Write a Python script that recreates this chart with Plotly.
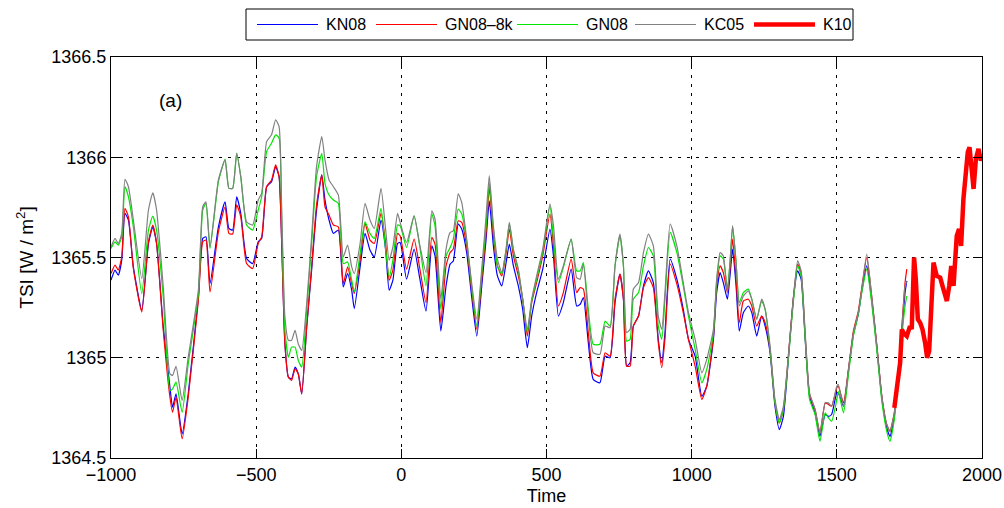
import plotly.graph_objects as go

# Reconstructed total solar irradiance series (W/m^2), 1000 BC - AD 1740
years = [
    -1000, -986, -975, -963, -952, -940, -923, -894, -871, -856, -843, -820, -797, -788, -776,
    -755, -734, -699, -684, -673, -659, -630, -607, -594, -581, -567, -553, -533, -512,
    -493, -481, -464, -447, -433, -421, -412, -401, -389, -378, -366, -355, -343, -326, -309,
    -292, -274, -263, -249, -234, -217, -200, -185, -171, -162, -142, -125, -108, -93, -70,
    -54, -42, -29, -13,
    -4, 18, 44, 64, 85, 105, 116, 136, 154, 168, 179, 196, 208, 225, 242, 260, 277, 292, 303,
    317, 331, 346, 361, 372, 386, 403, 418, 434, 449, 466, 487,
    512, 524, 541, 558, 585, 604, 616, 627, 644, 661, 684, 702, 719, 736, 753, 765, 776, 788,
    799, 817, 834, 851, 868, 885, 897, 908, 926, 949, 971, 989,
    1012, 1035, 1052, 1075, 1086, 1098, 1109, 1123, 1132, 1141, 1153, 1164, 1178, 1195, 1207,
    1224, 1241, 1253, 1270, 1287, 1302, 1316, 1333, 1350, 1365, 1377, 1391, 1406, 1425, 1442,
    1460, 1471, 1482, 1500,
    1505, 1523, 1540, 1557, 1574, 1586, 1603, 1620, 1638, 1655, 1672, 1683, 1698, 1712, 1724,
    1735, 1741,
]

kn08 = [
    1365.387, 1365.437, 1365.412, 1365.487, 1365.720, 1365.687, 1365.453, 1365.237, 1365.570,
    1365.653, 1365.570, 1365.153, 1364.853, 1364.753, 1364.820, 1364.620, 1364.820, 1365.303,
    1365.595, 1365.603, 1365.370, 1365.653, 1365.778, 1365.645, 1365.637, 1365.803, 1365.720,
    1365.495, 1365.470,
    1365.578, 1365.595, 1365.853, 1365.878, 1365.953, 1365.903, 1365.570, 1365.070, 1364.903,
    1364.895, 1364.953, 1364.920, 1364.820, 1365.153, 1365.437, 1365.737, 1365.912, 1365.787,
    1365.687, 1365.620, 1365.637, 1365.353, 1365.420, 1365.337, 1365.245, 1365.453, 1365.620,
    1365.537, 1365.503, 1365.687, 1365.537, 1365.337, 1365.387, 1365.570,
    1365.575, 1365.392, 1365.542, 1365.392, 1365.233, 1365.558, 1365.508, 1365.133, 1365.358,
    1365.467, 1365.483, 1365.667, 1365.642, 1365.525, 1365.308, 1365.108, 1365.358, 1365.592,
    1365.783, 1365.558, 1365.408, 1365.358, 1365.475, 1365.567, 1365.458, 1365.358, 1365.242,
    1365.050, 1365.208, 1365.325, 1365.442,
    1365.642, 1365.508, 1365.208, 1365.275, 1365.442, 1365.258, 1365.267, 1365.300, 1365.075,
    1364.892, 1364.875, 1365.008, 1365.000, 1365.275, 1365.417, 1365.292, 1364.958, 1364.975,
    1365.158, 1365.208, 1365.358, 1365.433, 1365.375, 1365.092, 1364.975, 1365.125, 1365.492,
    1365.392, 1365.242, 1365.092,
    1365.008, 1364.808, 1364.858, 1365.092, 1365.325, 1365.425, 1365.375, 1365.292, 1365.408,
    1365.542, 1365.358, 1365.133, 1365.225, 1365.258, 1365.225, 1365.108, 1365.208, 1365.158,
    1365.025, 1364.758, 1364.642, 1364.708, 1364.992, 1365.292, 1365.433, 1365.392, 1365.092,
    1364.808, 1364.725, 1364.608, 1364.717, 1364.708, 1364.717, 1364.825,
    1364.825, 1364.758, 1364.933, 1365.117, 1365.217, 1365.333, 1365.458, 1365.292, 1365.050,
    1364.800, 1364.650, 1364.608, 1364.708, 1364.925, 1365.125, 1365.325, 1365.383,
]

gn08_8k = [
    1365.420, 1365.462, 1365.437, 1365.503, 1365.745, 1365.703, 1365.445, 1365.228, 1365.578,
    1365.662, 1365.570, 1365.137, 1364.803, 1364.728, 1364.803, 1364.595, 1364.803, 1365.287,
    1365.578, 1365.587, 1365.328, 1365.628, 1365.753, 1365.620, 1365.617, 1365.762, 1365.703,
    1365.470, 1365.445,
    1365.570, 1365.603, 1365.853, 1365.887, 1365.962, 1365.903, 1365.570, 1365.070, 1364.903,
    1364.887, 1364.945, 1364.920, 1364.820, 1365.153, 1365.453, 1365.762, 1365.912, 1365.753,
    1365.712, 1365.662, 1365.653, 1365.370, 1365.453, 1365.370, 1365.320, 1365.487, 1365.670,
    1365.587, 1365.570, 1365.720, 1365.570, 1365.387, 1365.437, 1365.620,
    1365.608, 1365.442, 1365.592, 1365.442, 1365.275, 1365.600, 1365.567, 1365.175, 1365.458,
    1365.525, 1365.542, 1365.683, 1365.675, 1365.558, 1365.342, 1365.142, 1365.392, 1365.625,
    1365.850, 1365.608, 1365.458, 1365.408, 1365.525, 1365.642, 1365.508, 1365.408, 1365.292,
    1365.108, 1365.275, 1365.375, 1365.508,
    1365.717, 1365.558, 1365.258, 1365.325, 1365.492, 1365.325, 1365.350, 1365.342, 1365.125,
    1364.925, 1364.908, 1365.025, 1365.008, 1365.292, 1365.417, 1365.292, 1364.958, 1364.958,
    1365.158, 1365.208, 1365.350, 1365.400, 1365.350, 1365.075, 1364.950, 1365.092, 1365.467,
    1365.367, 1365.225, 1365.092,
    1364.958, 1364.792, 1364.858, 1365.108, 1365.358, 1365.458, 1365.425, 1365.325, 1365.442,
    1365.592, 1365.392, 1365.175, 1365.283, 1365.292, 1365.258, 1365.158, 1365.208, 1365.175,
    1365.042, 1364.775, 1364.675, 1364.742, 1365.008, 1365.292, 1365.467, 1365.425, 1365.108,
    1364.817, 1364.742, 1364.625, 1364.775, 1364.767, 1364.758, 1364.850,
    1364.858, 1364.775, 1364.942, 1365.133, 1365.233, 1365.350, 1365.500, 1365.308, 1365.058,
    1364.808, 1364.667, 1364.633, 1364.725, 1364.942, 1365.158, 1365.375, 1365.442,
]

gn08 = [
    1365.545, 1365.578, 1365.562, 1365.603, 1365.853, 1365.803, 1365.653, 1365.320, 1365.637,
    1365.707, 1365.637, 1365.303, 1364.837, 1364.845, 1364.878, 1364.728, 1364.970, 1365.320,
    1365.737, 1365.770, 1365.545, 1365.878, 1365.990, 1365.845, 1365.845, 1366.020, 1365.903,
    1365.662, 1365.637,
    1365.737, 1365.803, 1366.028, 1366.070, 1366.112, 1366.095, 1365.687, 1365.137, 1365.003,
    1365.053, 1365.053, 1364.987, 1364.953, 1365.237, 1365.570, 1365.903, 1366.020, 1365.870,
    1365.812, 1365.787, 1365.770, 1365.470, 1365.478, 1365.387, 1365.328, 1365.520, 1365.678,
    1365.620, 1365.595, 1365.745, 1365.537, 1365.403, 1365.487, 1365.662,
    1365.658, 1365.550, 1365.708, 1365.550, 1365.358, 1365.717, 1365.658, 1365.242, 1365.508,
    1365.550, 1365.592, 1365.742, 1365.717, 1365.583, 1365.358, 1365.158, 1365.417, 1365.658,
    1365.875, 1365.642, 1365.458, 1365.417, 1365.542, 1365.667, 1365.533, 1365.433, 1365.292,
    1365.125, 1365.283, 1365.392, 1365.525,
    1365.758, 1365.592, 1365.375, 1365.450, 1365.592, 1365.433, 1365.433, 1365.475, 1365.242,
    1365.067, 1365.067, 1365.183, 1365.158, 1365.458, 1365.608, 1365.458, 1365.083, 1365.092,
    1365.292, 1365.325, 1365.458, 1365.550, 1365.508, 1365.158, 1365.092, 1365.292, 1365.625,
    1365.525, 1365.358, 1365.208,
    1365.042, 1364.875, 1364.942, 1365.125, 1365.375, 1365.508, 1365.492, 1365.342, 1365.475,
    1365.658, 1365.475, 1365.275, 1365.325, 1365.342, 1365.292, 1365.192, 1365.283, 1365.242,
    1365.042, 1364.775, 1364.675, 1364.742, 1364.992, 1365.275, 1365.458, 1365.408, 1365.092,
    1364.792, 1364.717, 1364.583, 1364.725, 1364.700, 1364.683, 1364.792,
    1364.833, 1364.725, 1364.917, 1365.108, 1365.217, 1365.325, 1365.442, 1365.275, 1365.033,
    1364.783, 1364.633, 1364.583, 1364.692, 1364.908, 1365.108, 1365.258, 1365.308,
]

kc05 = [
    1365.553, 1365.595, 1365.570, 1365.620, 1365.890, 1365.853, 1365.687, 1365.395, 1365.737,
    1365.823, 1365.737, 1365.353, 1364.920, 1364.912, 1364.957, 1364.787, 1365.003, 1365.337,
    1365.753, 1365.778, 1365.553, 1365.887, 1365.987, 1365.845, 1365.845, 1366.020, 1365.903,
    1365.678, 1365.662,
    1365.787, 1365.820, 1366.078, 1366.112, 1366.187, 1366.153, 1365.737, 1365.203, 1365.087,
    1365.087, 1365.137, 1365.070, 1365.037, 1365.270, 1365.603, 1365.953, 1366.103, 1365.987,
    1365.887, 1365.853, 1365.812, 1365.503, 1365.562, 1365.453, 1365.420, 1365.570, 1365.770,
    1365.687, 1365.645, 1365.845, 1365.637, 1365.487, 1365.553, 1365.720,
    1365.675, 1365.575, 1365.708, 1365.558, 1365.425, 1365.733, 1365.692, 1365.292, 1365.542,
    1365.625, 1365.633, 1365.817, 1365.775, 1365.592, 1365.375, 1365.192, 1365.442, 1365.708,
    1365.908, 1365.658, 1365.492, 1365.425, 1365.542, 1365.675, 1365.542, 1365.442, 1365.292,
    1365.142, 1365.292, 1365.408, 1365.542,
    1365.767, 1365.658, 1365.392, 1365.458, 1365.592, 1365.400, 1365.392, 1365.467, 1365.208,
    1365.025, 1365.017, 1365.158, 1365.150, 1365.458, 1365.617, 1365.458, 1365.125, 1365.142,
    1365.342, 1365.375, 1365.525, 1365.617, 1365.558, 1365.208, 1365.142, 1365.325, 1365.667,
    1365.558, 1365.375, 1365.225,
    1365.092, 1364.925, 1364.992, 1365.142, 1365.392, 1365.525, 1365.508, 1365.325, 1365.475,
    1365.658, 1365.475, 1365.258, 1365.308, 1365.333, 1365.292, 1365.192, 1365.292, 1365.242,
    1365.058, 1364.792, 1364.692, 1364.758, 1365.008, 1365.292, 1365.483, 1365.433, 1365.125,
    1364.825, 1364.742, 1364.625, 1364.775, 1364.775, 1364.758, 1364.858,
    1364.867, 1364.758, 1364.942, 1365.125, 1365.225, 1365.342, 1365.517, 1365.308, 1365.058,
    1364.808, 1364.667, 1364.633, 1364.725, 1364.942, 1365.142, 1365.358, 1365.380,
]

# Observation-based reconstruction since 1700
k10_years = [
    1698, 1706, 1718, 1724, 1729, 1741, 1752, 1758, 1766, 1772, 1779, 1787, 1795, 1804, 1811,
    1818, 1825, 1833, 1844, 1856, 1867, 1879, 1887, 1894, 1902, 1907, 1913, 1921, 1928, 1936,
    1944, 1951, 1957, 1965, 1971, 1979, 1988, 1996, 2000,
]
k10 = [
    1364.750, 1364.842, 1364.975, 1365.142, 1365.125, 1365.108, 1365.158, 1365.142, 1365.500,
    1365.392, 1365.192, 1365.175, 1365.142, 1365.075, 1365.000, 1365.033, 1365.208, 1365.475,
    1365.408, 1365.400, 1365.342, 1365.283, 1365.358, 1365.458, 1365.358, 1365.458, 1365.608,
    1365.642, 1365.558, 1365.792, 1365.925, 1366.025, 1366.050, 1365.892, 1365.842, 1365.992,
    1366.042, 1365.983, 1366.000,
]

x_ticks = [-1000, -500, 0, 500, 1000, 1500, 2000]
x_labels = ["−1000", "−500", "0", "500", "1000", "1500", "2000"]
y_ticks = [1364.5, 1365, 1365.5, 1366, 1366.5]
y_labels = ["1364.5", "1365", "1365.5", "1366", "1366.5"]

for s in (kn08, gn08_8k, gn08, kc05):
    assert len(s) == len(years), len(s)
assert len(k10) == len(k10_years)

series = [
    ("KN08", years, kn08, "#0000ff", 1.2),
    ("GN08–8k", years, gn08_8k, "#ff0000", 1.2),
    ("GN08", years, gn08, "#00e600", 1.2),
    ("KC05", years, kc05, "#808080", 1.2),
    ("K10", k10_years, k10, "#ff0000", 4.5),
]

FONT = "Liberation Sans, Arial, Helvetica, sans-serif"

fig = go.Figure()
for name, xs, ys, color, w in series:
    thin = w < 2
    fig.add_trace(go.Scatter(
        x=xs, y=ys, mode="lines", name=name, showlegend=False,
        line=dict(color=color, width=w, shape="spline" if thin else "linear",
                  smoothing=0.5 if thin else None),
    ))

axis_common = dict(
    showline=True, linecolor="black", linewidth=1, mirror="ticks",
    ticks="inside", ticklen=9, tickcolor="black", tickwidth=1,
    showgrid=True, gridcolor="black", gridwidth=1, griddash="3px,6px",
    zeroline=False, automargin=False,
    tickfont=dict(family=FONT, size=18, color="black"),
)

fig.update_xaxes(range=[-1000, 2000], tickvals=x_ticks, ticktext=x_labels,
                 title=dict(text="Time", font=dict(family=FONT, size=18, color="black"), standoff=5),
                 **axis_common)
fig.update_yaxes(range=[1364.5, 1366.5], tickvals=y_ticks, ticktext=y_labels,
                 title=dict(text="TSI [W / m<sup>2</sup>]", font=dict(family=FONT, size=19, color="black"),
                            standoff=12),
                 **axis_common)

# Legend box drawn in paper coordinates above the axes
L, R, T, B = 111, 982, 57, 458
def px(x):
    return (x - L) / (R - L)
def py(y):
    return (B - y) / (B - T)

shapes = [dict(type="rect", xref="paper", yref="paper", x0=px(246), x1=px(853), y0=py(40), y1=py(9),
               line=dict(color="black", width=1), fillcolor="white")]
annotations = []
sample_x = [257, 376, 517, 635, 754]
for (name, _, _, color, w), sx in zip(series, sample_x):
    shapes.append(dict(type="line", xref="paper", yref="paper", x0=px(sx), x1=px(sx + 61),
                       y0=py(24.5), y1=py(24.5), line=dict(color=color, width=w if w > 2 else 1.2)))
    annotations.append(dict(text=name, xref="paper", yref="paper", x=px(sx + 67), y=py(24.5),
                            xanchor="left", yanchor="middle", showarrow=False,
                            font=dict(family=FONT, size=16, color="black")))

annotations.append(dict(text="(a)", xref="paper", yref="paper", x=px(170), y=py(100),
                        xanchor="center", yanchor="middle", showarrow=False,
                        font=dict(family=FONT, size=19, color="black")))

fig.update_layout(
    width=1004, height=508,
    margin=dict(l=L, r=1004 - R, t=T, b=508 - B),
    paper_bgcolor="white", plot_bgcolor="white",
    shapes=shapes, annotations=annotations,
    font=dict(family=FONT, color="black"),
)

fig.write_html("out.html")
